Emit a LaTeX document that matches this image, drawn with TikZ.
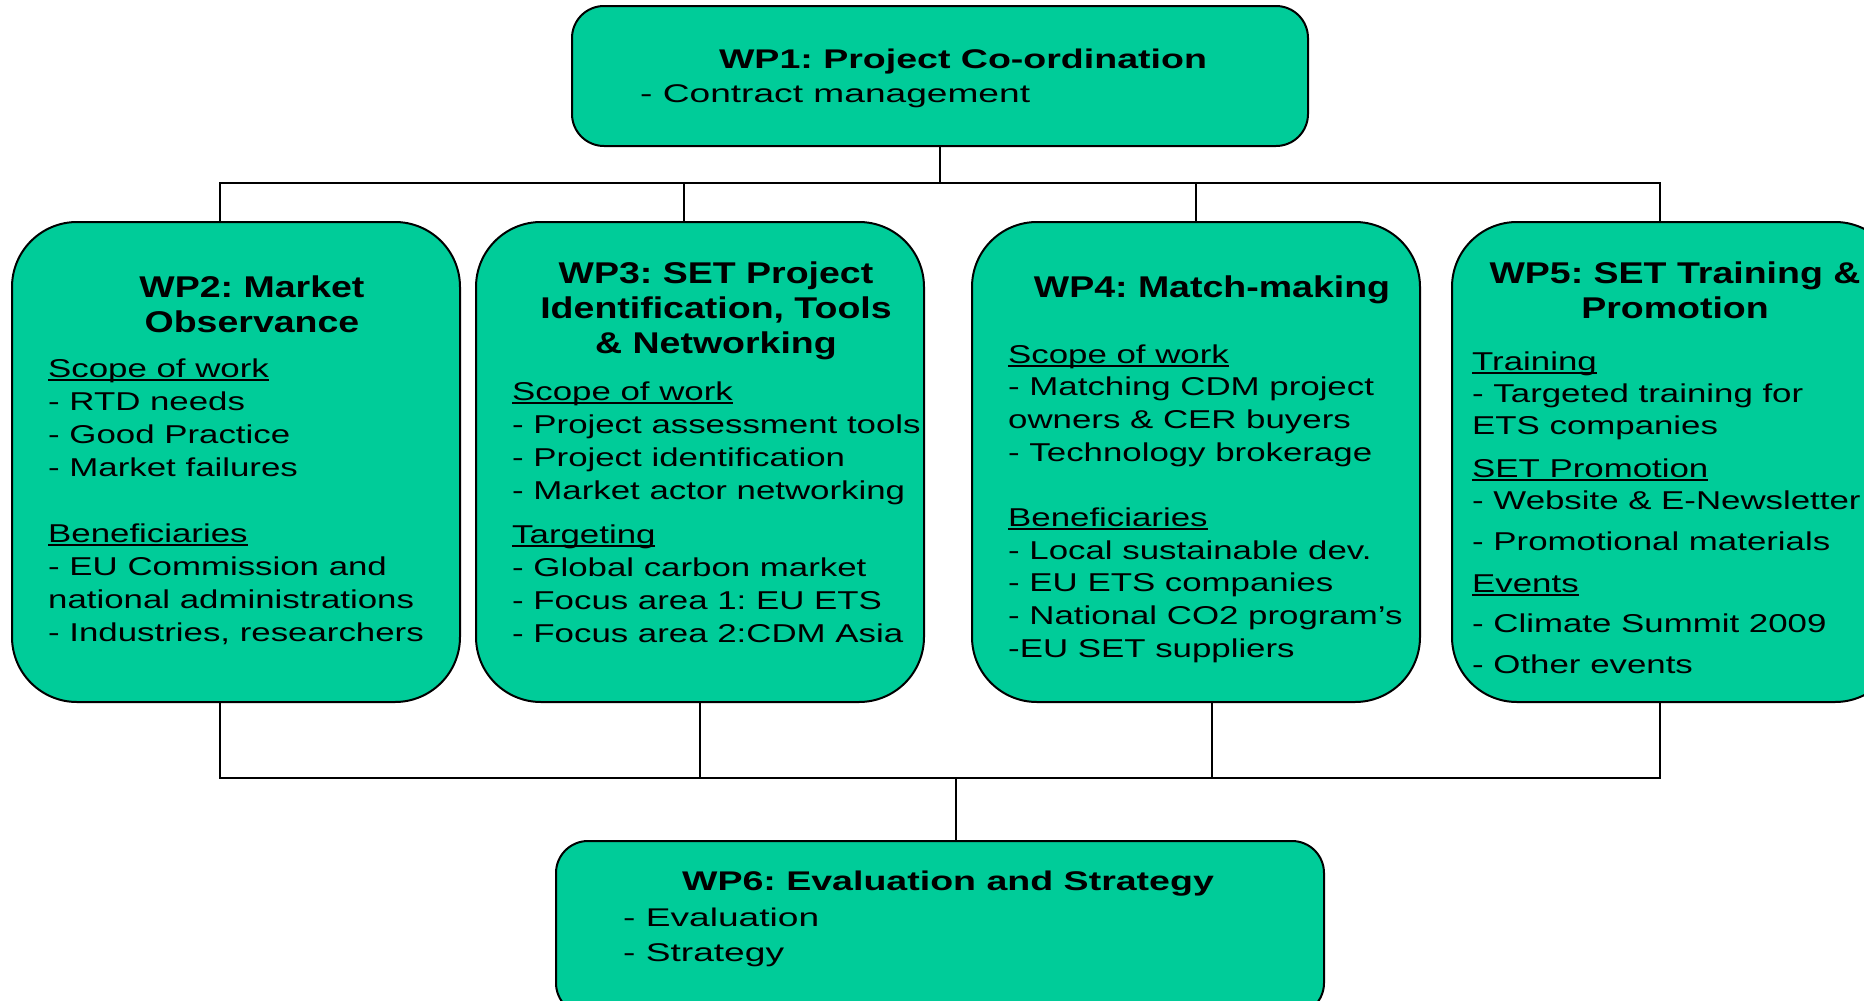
\documentclass[tikz,border=0pt]{standalone}
\usepackage{fontspec}
\usepackage{tikz}
\setmainfont{Liberation Sans}
\newfontfamily\bodyfont{Liberation Sans}[FakeStretch=1.35]
\newfontfamily\headfont{Liberation Sans}[FakeStretch=1.25]
\newfontfamily\wbodyfont{Liberation Sans}[FakeStretch=1.45]
\newfontfamily\wheadfont{Liberation Sans}[FakeStretch=1.39]
\definecolor{wpgreen}{RGB}{0,204,153}
\newcommand{\wpunder}[1]{\setbox0=\hbox{#1}\rlap{\rule[-3.5pt]{\wd0}{1.8pt}}\box0}
\tikzset{wpbox/.style = {draw, line width = 2pt, fill = wpgreen, rounded corners = 65pt, minimum width = 448pt, minimum height = 480pt, inner sep = 0, outer sep = 0}}
\tikzset{wptop/.style = {wpbox, rounded corners = 32pt, minimum width = 736pt, minimum height = 140pt}}
\tikzset{wpbot/.style = {wpbox, rounded corners = 32pt, minimum width = 768pt, minimum height = 174pt}}
\tikzset{link/.style = {line width = 1.4pt}}
\tikzset{wphead/.style = {anchor = base, inner sep = 0, font = \headfont\bfseries\fontsize{30}{35}\selectfont}}
\tikzset{wpbody/.style = {anchor = base west, inner sep = 0, font = \bodyfont\fontsize{25.8}{33}\selectfont}}
\tikzset{endhead/.style = {anchor = base, inner sep = 0, font = \wheadfont\bfseries\fontsize{27}{32}\selectfont}}
\tikzset{endbody/.style = {anchor = base west, inner sep = 0, font = \wbodyfont\fontsize{25.6}{35}\selectfont}}
\frenchspacing

\begin{document}
\begin{tikzpicture}[x = 1pt, y = -1pt]
      \useasboundingbox (0, 0) rectangle (1864, 1001);
      \fill [white] (0, 0) rectangle (1864, 1001);
      \clip (0, 0) rectangle (1864, 1001);

      \node [wptop] (wp1) at (940, 76) {};
      \node [wpbox] (wp2) at (236, 462) {};
      \node [wpbox] (wp3) at (700, 462) {};
      \node [wpbox] (wp4) at (1196, 462) {};
      \node [wpbox] (wp5) at (1676, 462) {};
      \node [wpbot] (wp6) at (940, 928) {};

      \coordinate (topbus) at (940, 183);
      \coordinate (botbus) at (956, 778);
      \coordinate (wp3top) at ([xshift = -16pt]wp3.north);
      \coordinate (wp4bot) at ([xshift = 16pt]wp4.south);

      \draw [link] (wp1.south) -- (topbus);
      \draw [link] ([xshift = -16pt]wp2.north) |- (topbus) -| ([xshift = -16pt]wp5.north);
      \draw [link] (wp3top) -- (wp3top |- topbus);
      \draw [link] (wp4.north) -- (wp4.north |- topbus);

      \draw [link] ([xshift = -16pt]wp2.south) |- (botbus) -| ([xshift = -16pt]wp5.south);
      \draw [link] (wp3.south) -- (wp3.south |- botbus);
      \draw [link] (wp4bot) -- (wp4bot |- botbus);
      \draw [link] (botbus) -- ([xshift = 16pt]wp6.north);

      \node [endhead] (wp1head) at (963, 68) {WP1: Project Co-ordination};
      \node [endbody] (wp1body) at (640, 102) {- Contract management};

      \node [wphead] (wp2head) at (252, 297) {\begin{tabular}[t]{@{}c@{}}WP2: Market\\Observance\end{tabular}};
      \node [wpbody] (wp2body) at (48, 377) {\begin{tabular}[t]{@{}l@{}}
        \wpunder{Scope of work}\\
        - RTD needs\\
        - Good Practice\\
        - Market failures\\
        \\
        \wpunder{Beneficiaries}\\
        - EU Commission and\\
        national administrations\\
        - Industries, researchers
      \end{tabular}};

      \node [wphead] (wp3head) at (716, 283) {\begin{tabular}[t]{@{}c@{}}WP3: SET Project\\Identification, Tools\\\& Networking\end{tabular}};
      \node [wpbody] (wp3body) at (512, 400) {\begin{tabular}[t]{@{}l@{}}
        \wpunder{Scope of work}\\
        - Project assessment tools\\
        - Project identification\\
        - Market actor networking\\[11pt]
        \wpunder{Targeting}\\
        - Global carbon market\\
        - Focus area 1: EU ETS\\
        - Focus area 2:CDM Asia
      \end{tabular}};

      \node [wphead] (wp4head) at (1212, 297) {WP4: Match-making};
      \node [wpbody, font = \bodyfont\fontsize{25.8}{32.7}\selectfont] (wp4body) at (1008, 363) {\begin{tabular}[t]{@{}l@{}}
        \wpunder{Scope of work}\\
        - Matching CDM project\\
        owners \& CER buyers\\
        - Technology brokerage\\
        \\
        \wpunder{Beneficiaries}\\
        - Local sustainable dev.\\
        - EU ETS companies\\
        - National CO2 program’s\\
        -EU SET suppliers
      \end{tabular}};

      \node [wphead] (wp5head) at (1675, 283) {\begin{tabular}[t]{@{}c@{}}WP5: SET Training \&\\Promotion\end{tabular}};
      \node [wpbody, font = \bodyfont\fontsize{25.8}{32}\selectfont] (wp5body) at (1472, 370) {\begin{tabular}[t]{@{}l@{}}
        \wpunder{Training}\\
        - Targeted training for\\
        ETS companies\\[11pt]
        \wpunder{SET Promotion}\\
        - Website \& E-Newsletter\\[9pt]
        - Promotional materials\\[10pt]
        \wpunder{Events}\\[8pt]
        - Climate Summit 2009\\[9pt]
        - Other events
      \end{tabular}};

      \node [endhead] (wp6head) at (948, 890) {WP6: Evaluation and Strategy};
      \node [endbody] (wp6body) at (623, 926) {\begin{tabular}[t]{@{}l@{}}
        - Evaluation\\
        - Strategy
      \end{tabular}};
    \end{tikzpicture}
\end{document}
